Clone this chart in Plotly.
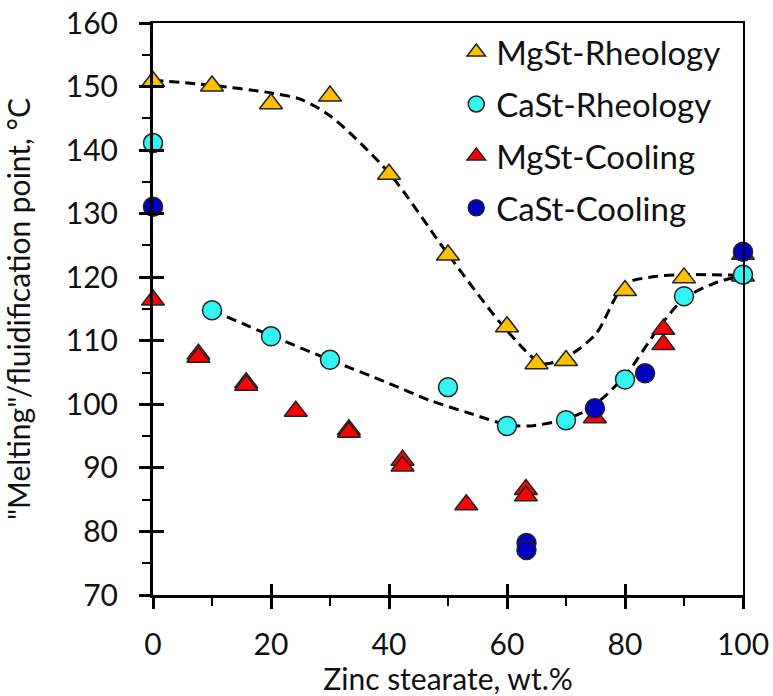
import plotly.graph_objects as go

# ---- data ----
mg_rheo_x = [0, 10, 20, 30, 40, 50, 60, 65, 70, 80, 90, 100]
mg_rheo_y = [150.8, 150.1, 147.3, 148.5, 136.2, 123.5, 112.2, 106.4, 106.9, 117.9, 119.9, 120.2]

ca_rheo_x = [0, 10, 20, 30, 50, 60, 70, 80, 90, 100]
ca_rheo_y = [141.1, 114.8, 110.7, 107.0, 102.7, 96.6, 97.5, 103.9, 117.0, 120.4]

mg_cool_x = [0, 7.7, 7.7, 15.8, 15.8, 24.2, 33.2, 33.2, 42.3, 42.3, 53.1, 63.2, 63.2, 74.9, 86.5, 86.5, 100]
mg_cool_y = [116.4, 107.9, 107.4, 103.4, 103.0, 98.9, 96.0, 95.6, 91.2, 90.3, 84.2, 86.6, 85.6, 97.9, 111.8, 109.4, 123.6]

ca_cool_x = [0, 63.3, 63.3, 74.9, 83.4, 100]
ca_cool_y = [131.1, 78.2, 77.1, 99.4, 104.9, 124.0]

# dashed trend curves
mg_trend_x = [0, 10, 20, 25, 30, 40, 50, 60, 66, 70, 75, 80, 85, 90, 100]
mg_trend_y = [151.0, 150.2, 149.0, 148.0, 145.4, 136.4, 123.6, 111.6, 106.4, 107.4, 111.0, 118.9, 120.1, 120.4, 120.3]

ca_trend_x = [10, 20, 30, 40, 47, 54, 60, 64, 70, 74, 80, 86, 90, 95, 100]
ca_trend_y = [114.8, 110.8, 107.0, 103.3, 100.6, 98.5, 96.8, 96.6, 97.7, 99.3, 104.5, 112.4, 116.6, 119.0, 120.3]

x_ticks = [0, 20, 40, 60, 80, 100]
y_ticks = [70, 80, 90, 100, 110, 120, 130, 140, 150, 160]

FONT = "Lato"

fig = go.Figure()

dash_line = dict(color="black", width=3, dash="10px,6px")
fig.add_trace(go.Scatter(x=mg_trend_x, y=mg_trend_y, mode="lines", line=dict(shape="spline", smoothing=0.8, **dash_line),
                         showlegend=False, hoverinfo="skip", cliponaxis=False))
fig.add_trace(go.Scatter(x=ca_trend_x, y=ca_trend_y, mode="lines", line=dict(shape="spline", smoothing=0.8, **dash_line),
                         showlegend=False, hoverinfo="skip", cliponaxis=False))

mk_line = dict(color="#222222", width=1.5)
fig.add_trace(go.Scatter(x=mg_rheo_x, y=mg_rheo_y, mode="markers", name="MgSt-Rheology", legendgroup="a",
                         marker=dict(symbol="triangle-up", size=20, color="#FFC000", line=mk_line), cliponaxis=False))
fig.add_trace(go.Scatter(x=ca_rheo_x, y=ca_rheo_y, mode="markers", name="CaSt-Rheology", legendgroup="b",
                         marker=dict(symbol="circle", size=19, color="#33F3F3", line=mk_line), cliponaxis=False))
fig.add_trace(go.Scatter(x=mg_cool_x, y=mg_cool_y, mode="markers", name="MgSt-Cooling", legendgroup="c",
                         marker=dict(symbol="triangle-up", size=20, color="#FF0000", line=mk_line), cliponaxis=False))
fig.add_trace(go.Scatter(x=ca_cool_x, y=ca_cool_y, mode="markers", name="CaSt-Cooling", legendgroup="d",
                         marker=dict(symbol="circle", size=19, color="#0000C0", line=mk_line), cliponaxis=False))

axis_font = dict(family=FONT, size=30, color="#111111")

fig.update_layout(
    width=773, height=696,
    margin=dict(l=153, r=30, t=23, b=101, autoexpand=False),
    paper_bgcolor="white", plot_bgcolor="white",
    font=dict(family=FONT, size=30, color="#111111"),
    legend=dict(x=0.514, y=0.998, xanchor="left", yanchor="top", bgcolor="rgba(0,0,0,0)",
                font=dict(family=FONT, size=33, color="#111111"), tracegroupgap=6,
                itemsizing="trace"),
    xaxis=dict(range=[0, 100], tickvals=x_ticks, ticks="outside", ticklen=11, tickwidth=2.5, tickcolor="black",
               showline=True, linewidth=3, linecolor="black", showgrid=False, zeroline=False, automargin=False,
               tickfont=axis_font, ticklabelstandoff=10,
               minor=dict(ticks="outside", ticklen=8, tickwidth=2, dtick=10, tickcolor="black", showgrid=False),
               title=dict(text="Zinc stearate, wt.%", font=dict(family=FONT, size=30), standoff=0)),
    yaxis=dict(range=[70, 160], tickvals=y_ticks, ticks="outside", ticklen=11, tickwidth=2.5, tickcolor="black",
               showline=True, linewidth=3, linecolor="black", showgrid=False, zeroline=False, automargin=False,
               tickfont=axis_font, ticklabelstandoff=15,
               minor=dict(ticks="outside", ticklen=8, tickwidth=2, dtick=5, tickcolor="black", showgrid=False),
               title=dict(text="\"Melting\"/fluidification point, °C", font=dict(family=FONT, size=30), standoff=32)),
    # overlay axes: inner halves of major ticks
    xaxis2=dict(range=[0, 100], overlaying="x", side="bottom", anchor="y", tickvals=x_ticks, ticks="inside",
                ticklen=11, tickwidth=2.5, tickcolor="black", showticklabels=False, showline=False,
                showgrid=False, zeroline=False),
    yaxis2=dict(range=[70, 160], overlaying="y", side="left", anchor="x", tickvals=y_ticks, ticks="inside",
                ticklen=11, tickwidth=2.5, tickcolor="black", showticklabels=False, showline=False,
                showgrid=False, zeroline=False),
    # frame on top and right
    xaxis3=dict(range=[0, 100], overlaying="x", side="top", anchor="y", showticklabels=False, ticks="",
                showline=True, linewidth=2, linecolor="black", showgrid=False, zeroline=False),
    yaxis3=dict(range=[70, 160], overlaying="y", side="right", anchor="x", showticklabels=False, ticks="",
                showline=True, linewidth=2, linecolor="black", showgrid=False, zeroline=False),
)

# invisible traces so the overlay axes are rendered
fig.add_trace(go.Scatter(x=[None], y=[None], xaxis="x2", yaxis="y2", showlegend=False, hoverinfo="skip"))
fig.add_trace(go.Scatter(x=[None], y=[None], xaxis="x3", yaxis="y3", showlegend=False, hoverinfo="skip"))

# remove the browser's default page margin so the figure starts at the window's corner
fig.write_html("out.html", config={"displayModeBar": False},
               post_script="document.body.style.margin='0';")
